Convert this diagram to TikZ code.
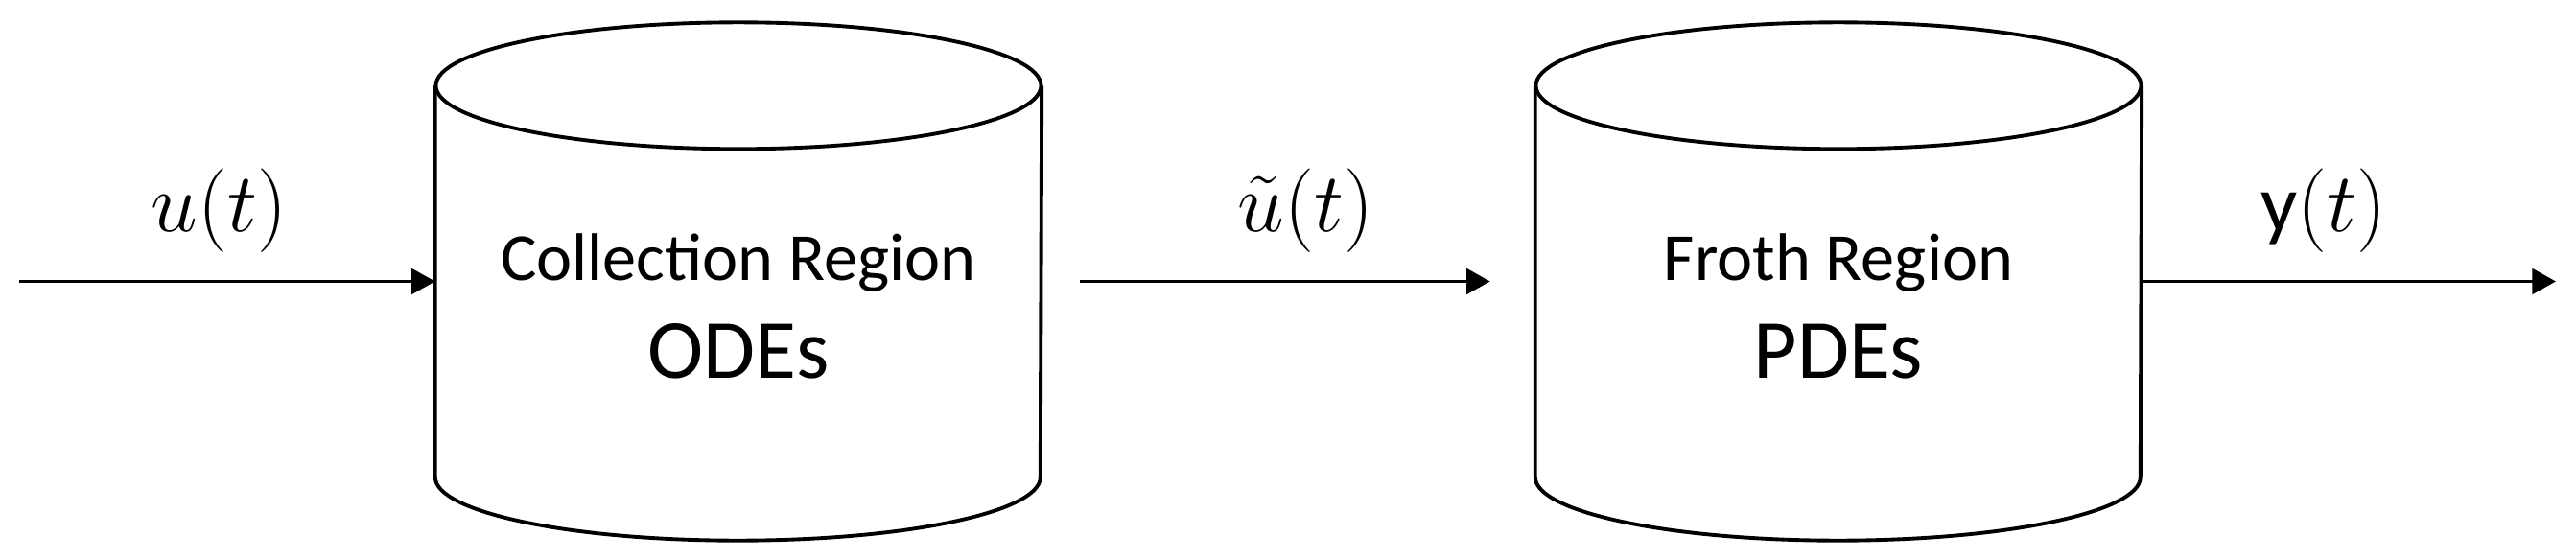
\documentclass[tikz,border=0pt]{standalone}
\usepackage{fontspec}
\setmainfont{Carlito}
\usetikzlibrary{arrows.meta,positioning}

\begin{document}
\begin{tikzpicture}[
  region/.style={minimum width=6.31cm,minimum height=4.07cm,inner sep=0pt},
  regtext/.style={align=center,font=\fontsize{20}{29}\selectfont},
  sig/.style={font=\fontsize{24}{28}\selectfont,inner sep=2pt,above=6pt},
  flow/.style={-{Triangle[length=7pt,width=7.5pt]},line width=1.1pt}]
\useasboundingbox (0,0) rectangle (26.86,5.82);
% \draw[help lines] (0,0) grid (26,5);
\node (c1) [region] at (7.70,2.885) {};
\node (c2) [region] at (19.17,2.885) {};
\foreach \c in {c1,c2}{
  \draw[line width=1.1pt] (\c.north) ellipse [x radius=3.155cm,y radius=0.66cm];
  \draw[line width=1.1pt] (\c.north west) -- (\c.south west)
    arc[start angle=180,end angle=360,x radius=3.155cm,y radius=0.66cm] -- (\c.north east);
}
\node (t1) [regtext] at (7.70,2.625) {Collection Region\\{\fontsize{25}{29}\selectfont ODEs}};
\node (t2) [regtext] at (19.17,2.625) {Froth Region\\{\fontsize{25}{29}\selectfont PDEs}};
%
\coordinate (in) at (0.20,2.885);
\coordinate (out) at (26.65,2.885);
\draw[flow] (in) -- node[sig,pos=.48] {$u(t)$} (c1.west);
\draw[flow] ([xshift=0.4cm]c1.east) -- node[sig,pos=.55] {$\tilde{u}(t)$} ([xshift=-0.47cm]c2.west);
\draw[flow] (c2.east) -- node[sig,pos=.44] {y$(t)$} (out);
\end{tikzpicture}
\end{document}
